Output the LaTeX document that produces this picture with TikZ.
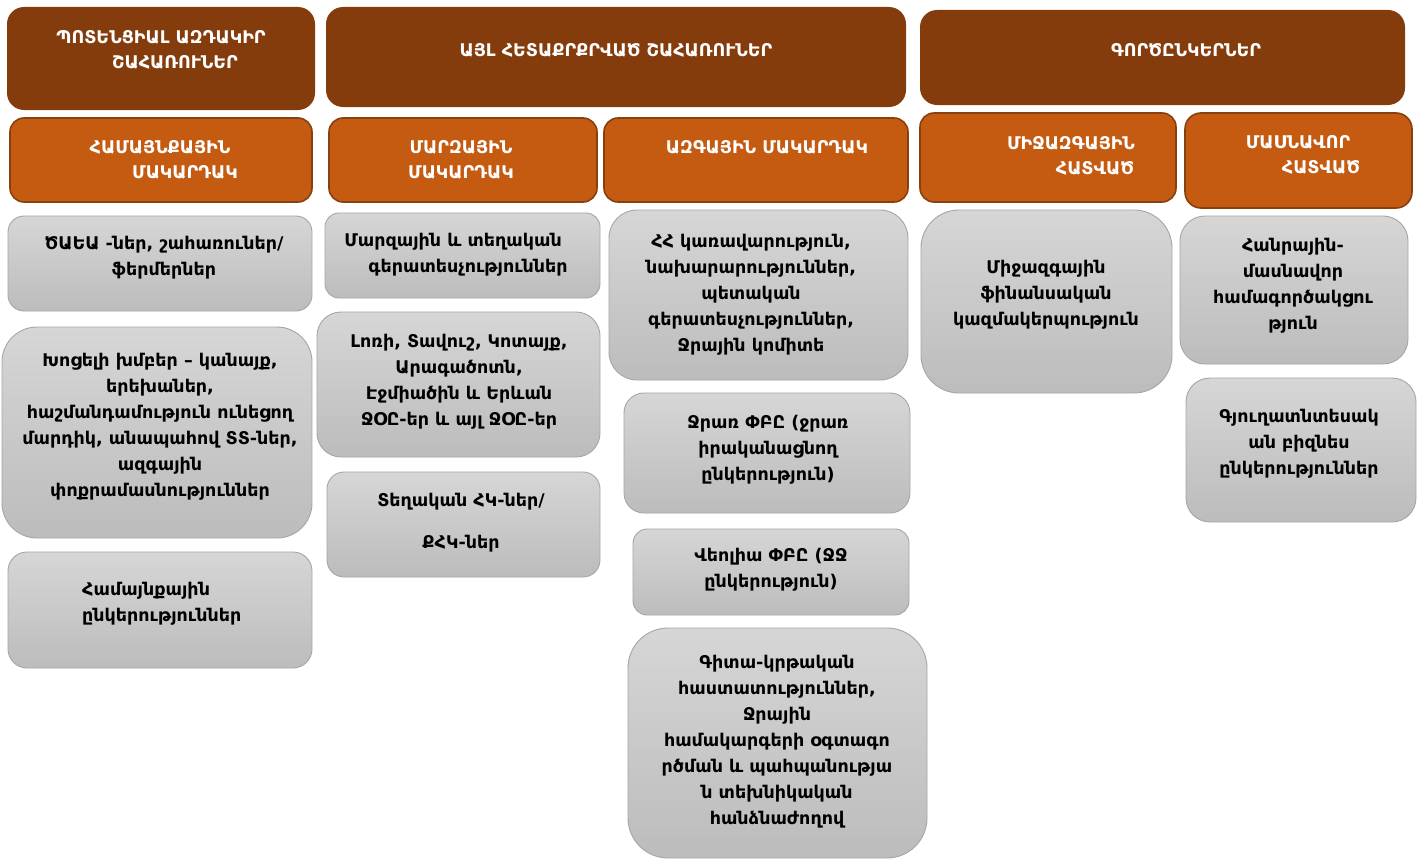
\documentclass[tikz,border=0pt]{standalone}
\usepackage{fontspec}
\setmainfont{DejaVu Sans}
\usetikzlibrary{fit}
\definecolor{hdr}{HTML}{843C0C}
\definecolor{sub}{HTML}{C55A11}
\definecolor{subline}{HTML}{87400F}
\definecolor{gtop}{HTML}{D6D6D6}
\definecolor{gbot}{HTML}{BCBCBC}
\definecolor{gline}{HTML}{A6A6A6}
\begin{document}
\begin{tikzpicture}[x=1pt,y=-1pt,
 hdrbox/.style={fill=hdr, draw=none, inner sep=0pt, rounded corners=17pt},
 subbox/.style={fill=sub, draw=subline, line width=1.6pt, inner sep=0pt, rounded corners=14pt},
 gbox/.style={top color=gtop, bottom color=gbot, draw=gline, line width=0.9pt, inner sep=0pt},
 htxt/.style={text=white, font=\fontsize{17.5}{25}\selectfont\bfseries, inner sep=0pt},
 btxt/.style={text=black, font=\fontsize{17.5}{26}\selectfont\bfseries, align=center, inner sep=0pt}]
\useasboundingbox[fill=white] (0,0) rectangle (1422,859);

% header row
\node[hdrbox, fit={(7,7)(315,110)}] (h1) {};
\node[hdrbox, fit={(326,7)(906,107)}] (h2) {};
\node[hdrbox, fit={(920,10)(1405,105)}] (h3) {};
\node[htxt] (h1a) at (161,37) {ՊՈՏԵՆՑԻԱԼ ԱԶԴԱԿԻՐ};
\node[htxt] (h1b) at (175,62) {ՇԱՀԱՌՈՒՆԵՐ};
\node[htxt] (h2a) at (616,50) {ԱՅԼ ՀԵՏԱՔՐՔՐՎԱԾ ՇԱՀԱՌՈՒՆԵՐ};
\node[htxt] (h3a) at (1186,50) {ԳՈՐԾԸՆԿԵՐՆԵՐ};

% sub headers
\node[subbox, fit={(10,118)(312,202)}] (s1) {};
\node[subbox, fit={(329,118)(597,202)}] (s2) {};
\node[subbox, fit={(604,118)(908,202)}] (s3) {};
\node[subbox, fit={(920,113)(1176,202)}] (s4) {};
\node[subbox, rounded corners=16pt, fit={(1185,113)(1412,208)}] (s5) {};
\node[htxt] (s1a) at (160,147) {ՀԱՄԱՅՆՔԱՅԻՆ};
\node[htxt] (s1b) at (185,172) {ՄԱԿԱՐԴԱԿ};
\node[htxt] (s2a) at (461,147) {ՄԱՐԶԱՅԻՆ};
\node[htxt] (s2b) at (461,172) {ՄԱԿԱՐԴԱԿ};
\node[htxt] (s3a) at (767,147) {ԱԶԳԱՅԻՆ ՄԱԿԱՐԴԱԿ};
\node[htxt] (s4a) at (1071,143) {ՄԻՋԱԶԳԱՅԻՆ};
\node[htxt] (s4b) at (1095,168) {ՀԱՏՎԱԾ};
\node[htxt] (s5a) at (1298,142) {ՄԱՍՆԱՎՈՐ};
\node[htxt] (s5b) at (1321,167) {ՀԱՏՎԱԾ};

% column 1
\node[gbox, rounded corners=16pt, fit={(8,216)(312,311)}] (c1a) {};
\node[gbox, rounded corners=35pt, fit={(2,327)(312,538)}] (c1b) {};
\node[gbox, rounded corners=19pt, fit={(8,552)(312,668)}] (c1c) {};
\node[btxt] (c1at) at (164,258) {ԾԱԵԱ -ներ, շահառուներ/\\ֆերմերներ};
\node[btxt] (c1bt) at (160,427) {Խոցելի խմբեր – կանայք,\\երեխաներ,\\հաշմանդամություն ունեցող\\մարդիկ, անապահով ՏՏ-ներ,\\ազգային\\փոքրամասնություններ};
\node[btxt, align=left, anchor=west] (c1ct) at (82,604) {Համայնքային\\ընկերություններ};

% column 2
\node[gbox, rounded corners=14pt, fit={(325,213)(600,298)}] (c2a) {};
\node[gbox, rounded corners=24pt, fit={(317,312)(600,457)}] (c2b) {};
\node[gbox, rounded corners=17pt, fit={(327,472)(600,577)}] (c2c) {};
\node[btxt] (c2at1) at (453,242) {Մարզային և տեղական};
\node[btxt] (c2at2) at (468,268) {գերատեսչություններ};
\node[btxt] (c2bt) at (459,381.5) {Լոռի, Տավուշ, Կոտայք,\\Արագածոտն,\\Էջմիածին և Երևան\\ՋՕԸ-եր և այլ ՋՕԸ-եր};
\node[btxt] (c2ct1) at (461,502) {Տեղական ՀԿ-ներ/};
\node[btxt] (c2ct2) at (461,544) {ՔՀԿ-ներ};

% column 3
\node[gbox, rounded corners=28pt, fit={(609,210)(908,380)}] (c3a) {};
\node[gbox, rounded corners=20pt, fit={(624,393)(910,513)}] (c3b) {};
\node[gbox, rounded corners=14pt, fit={(633,529)(909,615)}] (c3c) {};
\node[gbox, rounded corners=40pt, fit={(628,628)(927,858)}] (c3d) {};
\node[btxt] (c3at) at (751,295) {ՀՀ կառավարություն,\\նախարարություններ,\\պետական\\գերատեսչություններ,\\Ջրային կոմիտե};
\node[btxt] (c3bt) at (768,450) {Ջրառ ՓԲԸ (ջրառ\\իրականացնող\\ընկերություն)};
\node[btxt] (c3ct) at (771,570) {Վեոլիա ՓԲԸ (ՋՋ\\ընկերություն)};
\node[btxt] (c3dt) at (777,742) {Գիտա-կրթական\\հաստատություններ,\\Ջրային\\համակարգերի օգտագո\\րծման և պահպանությա\\ն տեխնիկական\\հանձնաժողով};

% column 4
\node[gbox, rounded corners=38pt, fit={(921,210)(1172,393)}] (c4a) {};
\node[btxt] (c4at) at (1046,295) {Միջազգային\\ֆինանսական\\կազմակերպություն};

% column 5
\node[gbox, rounded corners=25pt, fit={(1180,216)(1408,364)}] (c5a) {};
\node[gbox, rounded corners=24pt, fit={(1186,378)(1416,522)}] (c5b) {};
\node[btxt] (c5at) at (1293,286) {Հանրային-\\մասնավոր\\համագործակցու\\թյուն};
\node[btxt] (c5bt) at (1299,444) {Գյուղատնտեսակ\\ան բիզնես\\ընկերություններ};
\end{tikzpicture}
\end{document}
